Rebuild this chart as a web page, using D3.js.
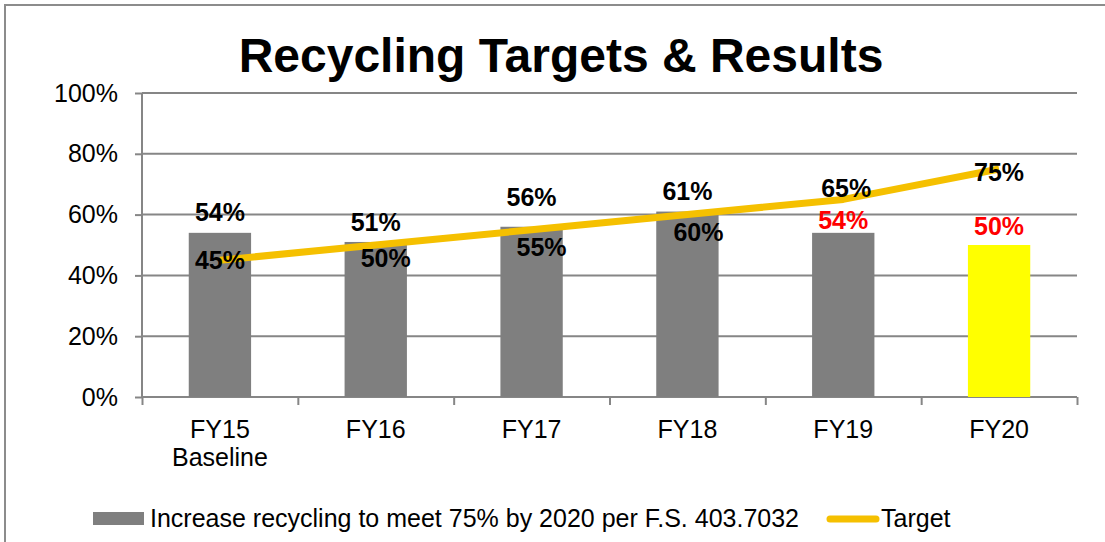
<!DOCTYPE html>
<html>
<head>
<meta charset="utf-8">
<script src="https://cdn.jsdelivr.net/npm/d3@7"></script>
<style>
  body { margin: 0; background: #fff; }
  svg { display: block; font-family: "Liberation Sans", Arial, sans-serif; }
  .axis path, .axis line { stroke: #868686; stroke-width: 2; }
  .axis text { fill: #000; font-size: 25px; font-family: "Liberation Sans", Arial, sans-serif; }
</style>
</head>
<body>
<script>
// data
let categories = ['FY15\nBaseline', 'FY16', 'FY17', 'FY18', 'FY19', 'FY20'];
let results = [0.54, 0.51, 0.56, 0.61, 0.54, 0.50];
let targets = [0.45, 0.50, 0.55, 0.60, 0.65, 0.75];
let yTicks = [0, 0.2, 0.4, 0.6, 0.8, 1.0];
let barLabel = 'Increase recycling to meet 75% by 2020 per F.S. 403.7032';
let lineLabel = 'Target';

// label nudges (layout only, in px)
let barLabelDy = [-21, -20, -30, -20, -13, -19];
let targetLabelOff = [[0, 0], [10, 13], [10, 17], [11, 18], [3, -11], [0, 3]];

let margin = { top: 93, right: 28, bottom: 145, left: 142 };
let totalW = 1105, totalH = 542;
let width = totalW - margin.left - margin.right;
let height = totalH - margin.top - margin.bottom;

let svg = d3.select('body').append('svg')
    .attr('width', totalW)
    .attr('height', totalH);

// outer chart border (right/bottom fall off the picture)
svg.append('rect')
    .attr('x', 5).attr('y', 5)
    .attr('width', totalW + 20).attr('height', totalH + 20)
    .attr('fill', 'none')
    .attr('stroke', '#8c8c8c')
    .attr('stroke-width', 2);

svg.append('text')
    .attr('x', 561).attr('y', 72)
    .attr('text-anchor', 'middle')
    .attr('font-size', 48)
    .attr('font-weight', 'bold')
    .text('Recycling Targets & Results');

let g = svg.append('g')
    .attr('transform', 'translate(' + margin.left + ',' + margin.top + ')');

let x = d3.scaleBand()
    .domain(categories)
    .range([0, width])
    .paddingInner(0.6)
    .paddingOuter(0.3);

let y = d3.scaleLinear().domain([0, 1]).range([height, 0]);

function cx(d) { return x(d) + x.bandwidth() / 2; }

// gridlines
g.append('g')
  .selectAll('line')
  .data(yTicks.filter(function(t) { return t > 0; }))
  .enter().append('line')
    .attr('x1', 0).attr('x2', width)
    .attr('y1', function(d) { return y(d); })
    .attr('y2', function(d) { return y(d); })
    .attr('stroke', '#868686')
    .attr('stroke-width', 2);

// y axis
let yAxis = g.append('g')
    .attr('class', 'axis')
    .call(d3.axisLeft(y).tickValues(yTicks).tickFormat(d3.format('.0%')).tickSize(7).tickPadding(17));
yAxis.select('.domain').attr('d', 'M0,' + height + 'V0');

// x axis: boundary ticks
let xb = d3.scaleLinear().domain([0, categories.length]).range([0, width]);
let xAxis = g.append('g')
    .attr('class', 'axis')
    .attr('transform', 'translate(0,' + height + ')')
    .call(d3.axisBottom(xb).tickValues(d3.range(categories.length + 1)).tickFormat('').tickSize(8));
xAxis.select('.domain').attr('d', 'M0,0H' + width);

// x category labels
let catLabels = g.append('g')
    .attr('transform', 'translate(0,' + height + ')')
  .selectAll('text')
  .data(categories)
  .enter().append('text')
    .attr('x', function(d) { return cx(d); })
    .attr('y', 41)
    .attr('text-anchor', 'middle')
    .attr('font-size', 25);
catLabels.each(function(d) {
  let t = d3.select(this);
  d.split('\n').forEach(function(s, i) {
    t.append('tspan')
      .attr('x', cx(d))
      .attr('dy', i === 0 ? 0 : 28)
      .text(s);
  });
});

// bars
g.selectAll('rect.bar')
  .data(results)
  .enter().append('rect')
    .attr('class', 'bar')
    .attr('x', function(d, i) { return x(categories[i]); })
    .attr('y', function(d) { return y(d); })
    .attr('width', x.bandwidth())
    .attr('height', function(d) { return height - y(d); })
    .attr('fill', function(d, i) { return i === results.length - 1 ? '#ffff00' : '#7f7f7f'; });

// target line
let line = d3.line()
  .x(function(d, i) { return cx(categories[i]); })
  .y(function(d) { return y(d); });

g.append('path')
    .datum(targets)
    .attr('d', line)
    .attr('fill', 'none')
    .attr('stroke', '#f5c000')
    .attr('stroke-width', 7)
    .attr('stroke-linejoin', 'round');

// bar labels
g.selectAll('text.barlab')
  .data(results)
  .enter().append('text')
    .attr('class', 'barlab')
    .attr('x', function(d, i) { return cx(categories[i]); })
    .attr('y', function(d, i) { return y(d) + barLabelDy[i]; })
    .attr('dy', '0.35em')
    .attr('text-anchor', 'middle')
    .attr('font-size', 25)
    .attr('font-weight', 'bold')
    .attr('fill', function(d, i) { return i >= 4 ? '#ff0000' : '#000'; })
    .text(d3.format('.0%'));

// target labels
g.selectAll('text.tlab')
  .data(targets)
  .enter().append('text')
    .attr('class', 'tlab')
    .attr('x', function(d, i) { return cx(categories[i]) + targetLabelOff[i][0]; })
    .attr('y', function(d, i) { return y(d) + targetLabelOff[i][1]; })
    .attr('dy', '0.35em')
    .attr('text-anchor', 'middle')
    .attr('font-size', 25)
    .attr('font-weight', 'bold')
    .text(d3.format('.0%'));

// legend
let legend = svg.append('g');
legend.append('rect')
    .attr('x', 93).attr('y', 512)
    .attr('width', 51).attr('height', 13)
    .attr('fill', '#7f7f7f');
legend.append('text')
    .attr('x', 150).attr('y', 527)
    .attr('font-size', 25)
    .text(barLabel);
legend.append('line')
    .attr('x1', 830).attr('x2', 876)
    .attr('y1', 519).attr('y2', 519)
    .attr('stroke', '#f5c000')
    .attr('stroke-width', 7)
    .attr('stroke-linecap', 'round');
legend.append('text')
    .attr('x', 881).attr('y', 527)
    .attr('font-size', 25)
    .text(lineLabel);
</script>
</body>
</html>
